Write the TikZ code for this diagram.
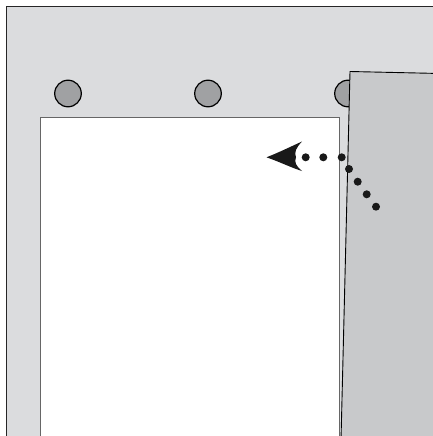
\documentclass[tikz,border=0pt]{standalone}
\begin{document}
\begin{tikzpicture}[x=1pt,y=-1pt,
  frame/.style={fill=outergray,draw=black!85,line width=1pt},
  hole/.style={fill=holegray,draw=black,line width=1.2pt},
  page/.style={fill=white,draw=black!60,line width=1pt},
  sheet/.style={fill=sheetgray,draw=black,line width=0.9pt},
  dotmark/.style={fill=black!90}]
\definecolor{outergray}{HTML}{DBDCDE}
\definecolor{holegray}{HTML}{A0A1A3}
\definecolor{sheetgray}{HTML}{C8C9CB}
\useasboundingbox (0,0) rectangle (433,436);
\clip (0,0) rectangle (433,436);
\fill[white] (0,0) rectangle (433,436);
% outer frame
\draw[frame] (6,7) rectangle (450,460);
% holes
\draw[hole] (68,93.5) circle (13.3);
\draw[hole] (208,93.5) circle (13.3);
\draw[hole] (348,93.5) circle (13.3);
% page
\draw[page] (40,117) rectangle (339,460);
% tilted sheet
\draw[sheet] (341,440) -- (350,71.5) -- (440,73.5) -- (440,460) -- cycle;
% dotted arrow
\foreach \p in {(305.7,157.3),(323.3,157.3),(341.7,157.3),(349,169),(357.7,181.7),(366.7,194.3),(376,206.7)}
  \fill[dotmark] \p circle (4);
\fill[dotmark] (266.5,157.3) .. controls (280,152) and (292,146) .. (302,141.5)
  .. controls (296,148) and (294,152) .. (296,157.3)
  .. controls (294,162) and (296,166) .. (302,171)
  .. controls (292,168) and (280,162) .. cycle;
\end{tikzpicture}
\end{document}
